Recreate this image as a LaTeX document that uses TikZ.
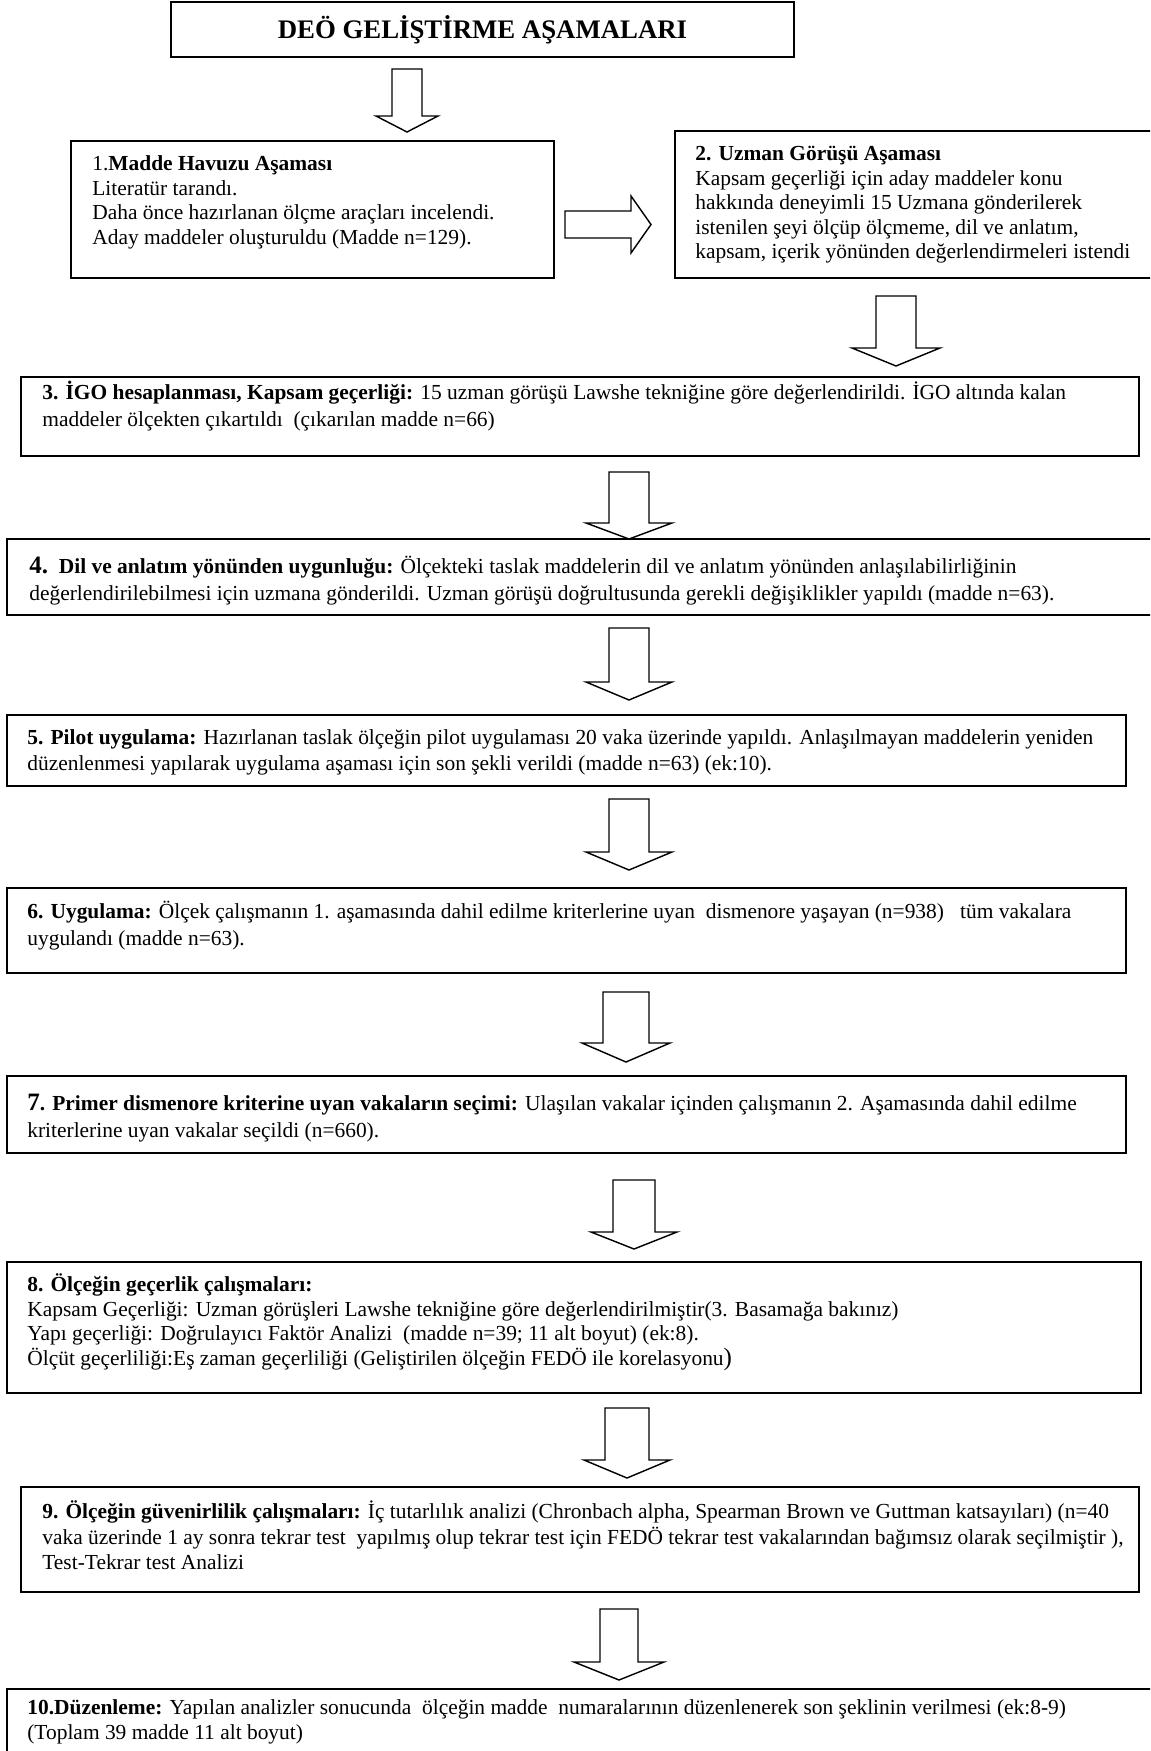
\documentclass[tikz,border=0pt]{standalone}
\usepackage{fontspec}
\setmainfont{Liberation Serif}
\usetikzlibrary{positioning,calc,fit}
\tikzset{
  box/.style={draw=black, line width=1pt, inner sep=0pt},
  txt/.style={anchor=north west, align=left, inner sep=0pt, font=\fontsize{12}{13.8}\selectfont},
  hollow/.style={draw=black, line width=0.8pt, fill=white, line join=miter},
}
\newcommand{\bignum}[1]{{\fontsize{14}{14}\selectfont\textbf{#1}}}
\newcommand{\fl}{\rule{0pt}{12pt}}

\begin{document}
\begin{tikzpicture}[x=0.56pt, y=-0.56pt]
  \useasboundingbox (0,0) rectangle (1150,1751);
  \clip (0,0) rectangle (1150,1751);

  % ------------------------------------------------ boxes
  \node[box, fit={(171,2) (794,57)}] (title) {};
  \node[box, fit={(71,141) (554,278)}] (b1) {};
  \node[box, fit={(675,131) (1160,278)}] (b2) {};
  \node[box, fit={(21,377) (1139,456)}] (b3) {};
  \node[box, fit={(7,539) (1160,615)}] (b4) {};
  \node[box, fit={(7,715) (1126,786)}] (b5) {};
  \node[box, fit={(7,888) (1126,973)}] (b6) {};
  \node[box, fit={(7,1076) (1126,1153)}] (b7) {};
  \node[box, fit={(7,1262) (1141,1393)}] (b8) {};
  \node[box, fit={(21,1487) (1139,1592)}] (b9) {};
  \node[box, fit={(7,1689) (1160,1770)}] (b10) {};

  % ------------------------------------------------ texts
  \node[font=\fontsize{15}{17}\selectfont\bfseries] (ttl) at (title.center)
    {DEÖ GELİŞTİRME AŞAMALARI};

  \node[txt] (t1) at (92,148.6)
    {\fl 1.\textbf{Madde Havuzu Aşaması}\\
     Literatür tarandı.\\
     Daha önce hazırlanan ölçme araçları incelendi.\\
     Aday maddeler oluşturuldu (Madde n=129).};

  \node[txt] (t2) at (695,138.6)
    {\fl\textbf{2. Uzman Görüşü Aşaması}\\
     Kapsam geçerliği için aday maddeler konu\\
     hakkında deneyimli 15 Uzmana gönderilerek\\
     istenilen şeyi ölçüp ölçmeme, dil ve anlatım,\\
     kapsam, içerik yönünden değerlendirmeleri istendi};

  \node[txt] (t3) at (42,377.6)
    {\fl\textbf{3. İGO hesaplanması, Kapsam geçerliği:} 15 uzman görüşü Lawshe tekniğine göre değerlendirildi. İGO altında kalan\\[1.2pt]
     maddeler ölçekten çıkartıldı\ \ (çıkarılan madde n=66)};

  \node[txt] (t4) at (29,551.6)
    {\fl\bignum{4.}\ \ \textbf{Dil ve anlatım yönünden uygunluğu:} Ölçekteki taslak maddelerin dil ve anlatım yönünden anlaşılabilirliğinin\\[1.2pt]
     değerlendirilebilmesi için uzmana gönderildi. Uzman görüşü doğrultusunda gerekli değişiklikler yapıldı (madde n=63).};

  \node[txt] (t5) at (27,722.6)
    {\fl\textbf{5. Pilot uygulama:} Hazırlanan taslak ölçeğin pilot uygulaması 20 vaka üzerinde yapıldı. Anlaşılmayan maddelerin yeniden\\[0.6pt]
     düzenlenmesi yapılarak uygulama aşaması için son şekli verildi (madde n=63) (ek:10).};

  \node[txt] (t6) at (27,896.6)
    {\fl\textbf{6. Uygulama:} Ölçek çalışmanın 1. aşamasında dahil edilme kriterlerine uyan\ \ dismenore yaşayan (n=938)\ \ \ tüm vakalara\\[1.2pt]
     uygulandı (madde n=63).};

  \node[txt] (t7) at (27,1088.6)
    {\fl\bignum{7}\textbf{. Primer dismenore kriterine uyan vakaların seçimi:} Ulaşılan vakalar içinden çalışmanın 2. Aşamasında dahil edilme\\[1.2pt]
     kriterlerine uyan vakalar seçildi (n=660).};

  \node[txt] (t8) at (27,1269.6)
    {\fl\textbf{8. Ölçeğin geçerlik çalışmaları:}\\
     Kapsam Geçerliği: Uzman görüşleri Lawshe tekniğine göre değerlendirilmiştir(3. Basamağa bakınız)\\
     Yapı geçerliği: Doğrulayıcı Faktör Analizi\ \ (madde n=39; 11 alt boyut) (ek:8).\\
     Ölçüt geçerliliği:Eş zaman geçerliliği (Geliştirilen ölçeğin FEDÖ ile korelasyonu{\fontsize{14}{14}\selectfont)}};

  \node[txt] (t9) at (42,1496.6)
    {\fl\textbf{9. Ölçeğin güvenirlilik çalışmaları:} İç tutarlılık analizi (Chronbach alpha, Spearman Brown ve Guttman katsayıları) (n=40\\[0.6pt]
     vaka üzerinde 1 ay sonra tekrar test\ \ yapılmış olup tekrar test için FEDÖ tekrar test vakalarından bağımsız olarak seçilmiştir ),\\[0.6pt]
     Test-Tekrar test Analizi};

  \node[txt] (t10) at (27,1692.6)
    {\fl\textbf{10.Düzenleme:} Yapılan analizler sonucunda\ \ ölçeğin madde\ \ numaralarının düzenlenerek son şeklinin verilmesi (ek:8-9)\\
     (Toplam 39 madde 11 alt boyut)};

  % ------------------------------------------------ hollow block arrows
  \foreach \i/\x/\ya/\yb/\w/\hw/\hl in {
      1/407/69/132/15/31/16, 2/896/296/366/20/44/18, 3/629/472/539/20/43/16,
      4/629/628/700/20/43/18, 5/629/799/870/20/43/18, 6/626/992/1062/23/44/19,
      7/634/1180/1249/21/43/17, 8/627/1408/1478/22/43/18, 9/619/1609/1680/19/45/18} {
    \coordinate (s\i) at (\x,\ya);
    \coordinate (e\i) at (\x,\yb);
    \draw[hollow] ($(s\i)+(-\w,0)$) -- ($(e\i)+(-\w,-\hl)$) -- ($(e\i)+(-\hw,-\hl)$)
      -- (e\i) -- ($(e\i)+(\hw,-\hl)$) -- ($(e\i)+(\w,-\hl)$) -- ($(s\i)+(\w,0)$) -- cycle;
  }

  \coordinate (rs) at (565,224.5);
  \coordinate (re) at (651,224.5);
  \draw[hollow] ($(rs)+(0,-13.5)$) -- ($(re)+(-20,-13.5)$) -- ($(re)+(-20,-28.5)$)
    -- (re) -- ($(re)+(-20,28.5)$) -- ($(re)+(-20,13.5)$) -- ($(rs)+(0,13.5)$) -- cycle;
\end{tikzpicture}
\end{document}
